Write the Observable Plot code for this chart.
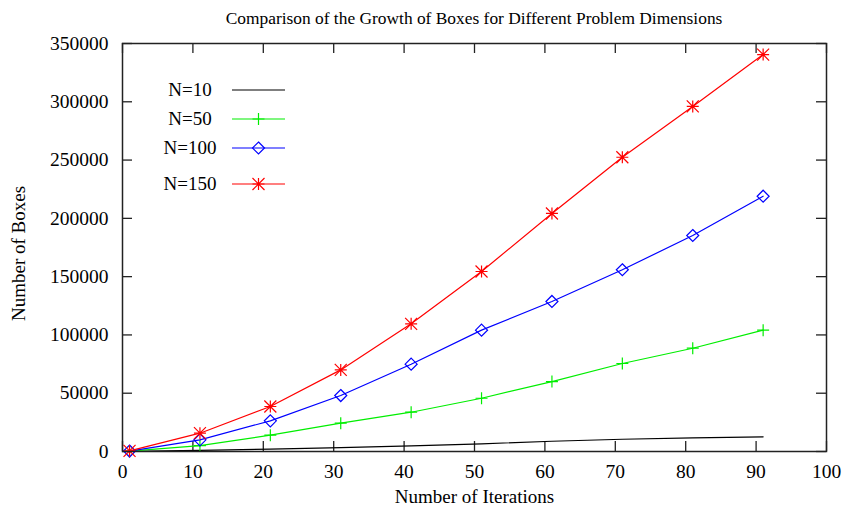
<!DOCTYPE html>
<html>
<head>
<meta charset="utf-8">
<script src="https://cdn.jsdelivr.net/npm/d3@7"></script>
<script src="https://cdn.jsdelivr.net/npm/@observablehq/plot@0.6"></script>
<style>
  body { margin: 0; background: #fff; }
  #wrap { position: relative; width: 848px; height: 508px; font-family: "Liberation Serif", "Times New Roman", serif; color: #000; }
  #title { height: 30px; box-sizing: border-box; padding-top: 9px; padding-left: 100px; text-align: center; font-size: 17.4px; line-height: 18px; }
  #legend { position: absolute; left: 0; top: 0; pointer-events: none; }
</style>
</head>
<body>
<div id="wrap">
  <div id="title">Comparison of the Growth of Boxes for Different Problem Dimensions</div>
  <div id="chart"></div>
  <svg id="legend" width="848" height="508"></svg>
</div>
<script>
// Iteration counts at which the box totals were recorded
const iterations = [1, 11, 21, 31, 41, 51, 61, 71, 81, 91];

// Number of boxes per problem dimension N
const boxesN10  = [100, 1000, 2000, 3300, 4900, 6600, 8800, 10500, 11700, 12600];
const boxesN50  = [300, 5100, 14000, 24300, 33700, 45700, 60000, 75500, 88600, 104100];
const boxesN100 = [400, 10000, 26300, 48000, 74900, 104100, 128700, 155900, 185300, 219000];
const boxesN150 = [500, 15700, 38600, 70000, 109500, 154400, 204200, 252400, 296000, 340500];

const seriesNames = ["N=10", "N=50", "N=100", "N=150"];
const xTicks = [0, 10, 20, 30, 40, 50, 60, 70, 80, 90, 100];
const yTicks = [0, 50000, 100000, 150000, 200000, 250000, 300000, 350000];

// gnuplot-style point shapes (stroked)
const plusSym = { draw(ctx, size) { const h = Math.sqrt(size / Math.PI);
  ctx.moveTo(-h, 0); ctx.lineTo(h, 0); ctx.moveTo(0, -h); ctx.lineTo(0, h); } };
const diamondSym = { draw(ctx, size) { const h = Math.sqrt(size / Math.PI);
  ctx.moveTo(0, -h); ctx.lineTo(h, 0); ctx.lineTo(0, h); ctx.lineTo(-h, 0); ctx.closePath(); } };
const starSym = { draw(ctx, size) { const h = Math.sqrt(size / Math.PI);
  ctx.moveTo(-h, 0); ctx.lineTo(h, 0); ctx.moveTo(0, -h); ctx.lineTo(0, h);
  ctx.moveTo(-h, -h); ctx.lineTo(h, h); ctx.moveTo(-h, h); ctx.lineTo(h, -h); } };

const series = [
  { name: seriesNames[0], values: boxesN10,  color: "#000000", symbol: null },
  { name: seriesNames[1], values: boxesN50,  color: "#00ee00", symbol: plusSym },
  { name: seriesNames[2], values: boxesN100, color: "#0000ff", symbol: diamondSym },
  { name: seriesNames[3], values: boxesN150, color: "#ff0000", symbol: starSym }
];

const W = 848, H = 478, mT = 13, mB = 57, mL = 122, mR = 22;
const fw = W - mL - mR, fh = H - mT - mB;
const tickLen = 10, axisColor = "#222";

const marks = [];
for (const s of series) {
  const pts = s.values.map((v, i) => ({ x: iterations[i], y: v }));
  marks.push(Plot.line(pts, { x: "x", y: "y", stroke: s.color, strokeWidth: 1.2 }));
  if (s.symbol) marks.push(Plot.dot(pts, { x: "x", y: "y", symbol: s.symbol, r: 6, fill: "none", stroke: s.color, strokeWidth: 1.2 }));
}

const chart = Plot.plot({
  width: W, height: H,
  marginTop: mT, marginBottom: mB, marginLeft: mL, marginRight: mR,
  style: { fontFamily: "'Liberation Serif', 'Times New Roman', serif", fontSize: "19px", color: "#000", background: "#fff" },
  x: { domain: [0, 100] },
  y: { domain: [0, 350000] },
  marks: [
    // inward tick marks on all four sides
    Plot.ruleX(xTicks, { x: d => d, insetTop: fh - tickLen, stroke: axisColor, strokeWidth: 1.3 }),
    Plot.ruleX(xTicks, { x: d => d, insetBottom: fh - tickLen, stroke: axisColor, strokeWidth: 1.3 }),
    Plot.ruleY(yTicks, { y: d => d, insetRight: fw - tickLen, stroke: axisColor, strokeWidth: 1.3 }),
    Plot.ruleY(yTicks, { y: d => d, insetLeft: fw - tickLen, stroke: axisColor, strokeWidth: 1.3 }),
    Plot.axisX({ ticks: xTicks, tickSize: 0, tickPadding: 13, label: null, fontSize: 19.5 }),
    Plot.axisY({ ticks: yTicks, tickSize: 0, tickPadding: 14, label: null, fontSize: 19.5, tickFormat: d3.format("d") }),
    Plot.text(["Number of Iterations"], { frameAnchor: "bottom", textAnchor: "middle", lineAnchor: "middle", dy: 45, fontSize: 19, text: d => d }),
    Plot.text(["Number of Boxes"], { frameAnchor: "left", textAnchor: "middle", lineAnchor: "middle", rotate: -90, dx: -104, dy: 6, fontSize: 19, text: d => d }),
    ...marks,
    Plot.frame({ stroke: axisColor, strokeWidth: 1.5 })
  ]
});
document.getElementById("chart").appendChild(chart);

// Key in the upper-left corner of the plot
const legend = d3.select("#legend");
const rowY = [90, 119, 148, 184];
series.forEach((s, i) => {
  const g = legend.append("g");
  g.append("text").attr("x", 190).attr("y", rowY[i]).attr("dy", "0.32em")
    .attr("text-anchor", "middle").attr("font-size", 19)
    .attr("font-family", "'Liberation Serif', 'Times New Roman', serif").text(s.name);
  g.append("line").attr("x1", 232).attr("x2", 285).attr("y1", rowY[i]).attr("y2", rowY[i])
    .attr("stroke", s.color).attr("stroke-width", 1.2);
  if (s.symbol) {
    const p = d3.path();
    s.symbol.draw(p, 36 * Math.PI);
    g.append("path").attr("d", p.toString()).attr("transform", `translate(258.5,${rowY[i]})`)
      .attr("fill", "none").attr("stroke", s.color).attr("stroke-width", 1.2);
  }
});
</script>
</body>
</html>
